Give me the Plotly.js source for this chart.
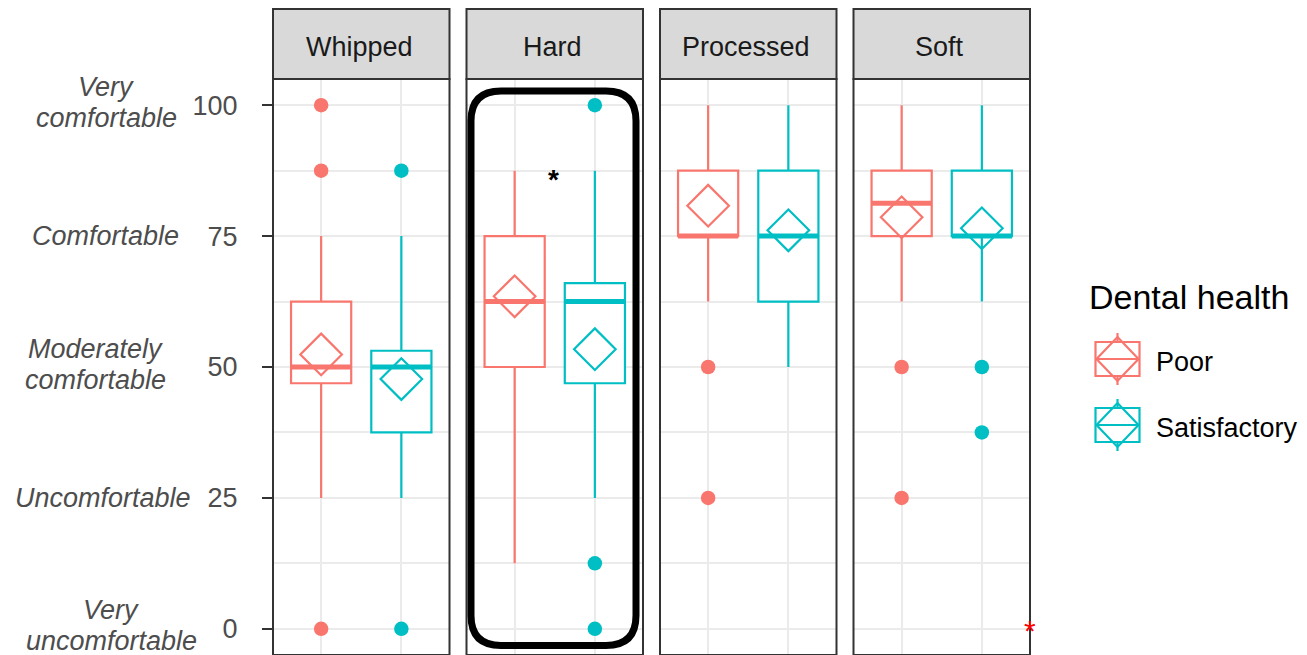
<!DOCTYPE html>
<html>
<head>
<meta charset="utf-8">
<script src="https://cdn.plot.ly/plotly-3.0.1.min.js"></script>
<style>
  html, body { margin: 0; padding: 0; background: #fff; }
  #chart { width: 1307px; height: 655px; }
</style>
</head>
<body>
<div id="chart"></div>
<script>
// ---------------------------------------------------------------------------
// data
// ---------------------------------------------------------------------------
const foods = ['Whipped', 'Hard', 'Processed', 'Soft'];
const groupNames = ['Poor', 'Satisfactory'];
const groupColors = ['#F8766D', '#00BFC4'];

const poorQ1 = [46.9, 50, 75, 75];
const poorMedian = [50, 62.5, 75, 81.25];
const poorQ3 = [62.5, 75, 87.5, 87.5];
const poorLower = [25, 12.5, 62.5, 62.5];
const poorUpper = [75, 87.5, 100, 100];
const poorMean = [52.4, 63.5, 80.8, 78.6];
const poorOutliers = [[100, 87.5, 0], [], [50, 25], [50, 25]];

const satQ1 = [37.5, 46.9, 62.5, 75];
const satMedian = [50, 62.5, 75, 75];
const satQ3 = [53.1, 66, 87.5, 87.5];
const satLower = [25, 25, 50, 62.5];
const satUpper = [75, 87.5, 100, 100];
const satMean = [47.7, 53.4, 76.1, 76.5];
const satOutliers = [[87.5, 0], [100, 12.5, 0], [], [50, 37.5]];

const yTicks = [0, 25, 50, 75, 100];
const comfortLabels = [
    ['Very', 'uncomfortable'],
    ['Uncomfortable'],
    ['Moderately', 'comfortable'],
    ['Comfortable'],
    ['Very', 'comfortable']
];

// ---------------------------------------------------------------------------
// geometry helpers (pixel -> paper)
// ---------------------------------------------------------------------------
const W = 1307, H = 655;
const M = { l: 273, r: 277, t: 9, b: 0 };
const PW = W - M.l - M.r;
const PH = H - M.t - M.b;
const pxX = x => (x - M.l) / PW;
const pxY = y => (H - M.b - y) / PH;

const FONT = 'Liberation Sans, Arial, sans-serif';
const BOX_W = 0.75;
const panelPx = [[273, 449.5], [466.5, 643], [660, 836.5], [853.5, 1030]];
const stripBottom = 79;

const groups = [
    { q1: poorQ1, med: poorMedian, q3: poorQ3, lo: poorLower, hi: poorUpper, mean: poorMean, out: poorOutliers },
    { q1: satQ1, med: satMedian, q3: satQ3, lo: satLower, hi: satUpper, mean: satMean, out: satOutliers }
];

// ---------------------------------------------------------------------------
// traces
// ---------------------------------------------------------------------------
const boxes = [], medians = [], outliers = [], means = [];

foods.forEach((food, i) => {
    const xa = i === 0 ? 'x' : 'x' + (i + 1);
    groups.forEach((g, j) => {
        const xpos = j + 1;
        const color = groupColors[j];
        boxes.push({
            type: 'box', x: [xpos],
            q1: [g.q1[i]], median: [g.med[i]], q3: [g.q3[i]],
            lowerfence: [g.lo[i]], upperfence: [g.hi[i]],
            width: BOX_W, whiskerwidth: 0, boxpoints: false,
            line: { color: color, width: 2.2 }, fillcolor: 'white',
            xaxis: xa, yaxis: 'y', showlegend: false, hoverinfo: 'skip'
        });
        medians.push({
            type: 'scatter', mode: 'lines',
            x: [xpos - BOX_W / 2, xpos + BOX_W / 2], y: [g.med[i], g.med[i]],
            line: { color: color, width: 5 },
            xaxis: xa, yaxis: 'y', showlegend: false, hoverinfo: 'skip'
        });
        if (g.out[i].length) {
            outliers.push({
                type: 'scatter', mode: 'markers',
                x: g.out[i].map(() => xpos), y: g.out[i],
                marker: { color: color, size: 14.5 },
                xaxis: xa, yaxis: 'y', showlegend: false, hoverinfo: 'skip', cliponaxis: false
            });
        }
        means.push({
            type: 'scatter', mode: 'markers',
            x: [xpos], y: [g.mean[i]],
            marker: { symbol: 'diamond-open', size: 32, color: color, line: { color: color, width: 2.2 } },
            xaxis: xa, yaxis: 'y', showlegend: false, hoverinfo: 'skip'
        });
    });
});

const data = [...boxes, ...medians, ...outliers, ...means];

// ---------------------------------------------------------------------------
// layout
// ---------------------------------------------------------------------------
const layout = {
    width: W, height: H,
    margin: M,
    paper_bgcolor: 'white', plot_bgcolor: 'white',
    font: { family: FONT, size: 27, color: '#4D4D4D' },
    showlegend: false,
    boxmode: 'overlay',
    yaxis: {
        domain: [0, pxY(stripBottom)],
        range: [-5, 105], anchor: 'x',
        tickmode: 'linear', tick0: 0, dtick: 25,
        ticks: 'outside', ticklen: 10, tickwidth: 2, tickcolor: '#333333',
        ticklabelstandoff: 19,
        tickfont: { family: FONT, size: 27, color: '#4D4D4D' },
        showgrid: true, gridcolor: '#EBEBEB', gridwidth: 2,
        minor: { dtick: 12.5, showgrid: true, gridcolor: '#EBEBEB', gridwidth: 2 },
        zeroline: false, showline: false, fixedrange: true
    },
    shapes: [],
    annotations: []
};

panelPx.forEach((p, i) => {
    const key = i === 0 ? 'xaxis' : 'xaxis' + (i + 1);
    const ref = i === 0 ? 'x' : 'x' + (i + 1);
    layout[key] = {
        domain: [pxX(p[0]), pxX(p[1])],
        range: [0.4, 2.6], anchor: 'y',
        tickvals: [1, 2], showticklabels: false, ticks: '',
        showgrid: true, gridcolor: '#EBEBEB', gridwidth: 2,
        zeroline: false, showline: false, fixedrange: true
    };
    // panel border
    layout.shapes.push({
        type: 'rect', xref: ref + ' domain', yref: 'y domain',
        x0: 0, x1: 1, y0: 0, y1: 1, layer: 'above',
        line: { color: '#333333', width: 2 }
    });
    // strip
    layout.shapes.push({
        type: 'rect', xref: ref + ' domain', yref: 'paper',
        x0: 0, x1: 1, y0: pxY(stripBottom), y1: 1, layer: 'above',
        fillcolor: '#D9D9D9', line: { color: '#333333', width: 2 }
    });
    layout.annotations.push({
        xref: ref + ' domain', yref: 'paper', x: 0.49, y: pxY(47),
        text: foods[i], showarrow: false, xanchor: 'center', yanchor: 'middle',
        font: { family: FONT, size: 27, color: '#1A1A1A' }
    });
});

// comfort labels to the left of the tick numbers
const labelCentersX = [111, 103, 95, 105.5, 106];
const lineGap = 31;
yTicks.forEach((v, k) => {
    const lines = comfortLabels[k];
    lines.forEach((t, n) => {
        const off = (n - (lines.length - 1) / 2) * lineGap;
        layout.annotations.push({
            xref: 'paper', yref: 'y', x: pxX(labelCentersX[k]), y: v,
            yshift: -off + (lines.length > 1 ? 3 : 0),
            text: '<i>' + t + '</i>', showarrow: false,
            xanchor: 'center', yanchor: 'middle',
            font: { family: FONT, size: 27, color: '#4D4D4D' }
        });
    });
});

// highlight around the Hard panel
(function () {
    const x0 = pxX(471), x1 = pxX(636), yT = pxY(91), yB = pxY(645.5);
    const rx = 30 / PW, ry = 30 / PH;
    const path = `M${x0 + rx},${yT} L${x1 - rx},${yT} Q${x1},${yT} ${x1},${yT - ry} ` +
        `L${x1},${yB + ry} Q${x1},${yB} ${x1 - rx},${yB} L${x0 + rx},${yB} ` +
        `Q${x0},${yB} ${x0},${yB + ry} L${x0},${yT - ry} Q${x0},${yT} ${x0 + rx},${yT} Z`;
    layout.shapes.push({
        type: 'path', xref: 'paper', yref: 'paper', path: path, layer: 'above',
        line: { color: 'black', width: 7 }
    });
})();

// significance marks
layout.annotations.push({
    xref: 'x2', yref: 'y', x: 1.48, y: 85.8, text: '<b>*</b>', showarrow: false,
    font: { family: FONT, size: 28, color: 'black' }
});
layout.annotations.push({
    xref: 'x4', yref: 'y', x: 2.6, y: -0.4, text: '*', showarrow: false,
    font: { family: FONT, size: 30, color: '#FF0000' }
});

// legend (drawn by hand: box + diamond key)
layout.annotations.push({
    xref: 'paper', yref: 'paper', x: pxX(1087), y: pxY(297),
    text: 'Dental health', showarrow: false, xanchor: 'left', yanchor: 'middle',
    font: { family: FONT, size: 34, color: 'black' }
});
groupNames.forEach((name, j) => {
    const cy = 359 + j * 66;
    const cx = 1117.5;
    const color = groupColors[j];
    const ln = { color: color, width: 2.2 };
    layout.shapes.push({
        type: 'rect', xref: 'paper', yref: 'paper',
        x0: pxX(1095.5), x1: pxX(1139.5), y0: pxY(cy + 17), y1: pxY(cy - 17), line: ln
    });
    layout.shapes.push({
        type: 'line', xref: 'paper', yref: 'paper',
        x0: pxX(1095.5), x1: pxX(1139.5), y0: pxY(cy), y1: pxY(cy), line: ln
    });
    layout.shapes.push({
        type: 'line', xref: 'paper', yref: 'paper',
        x0: pxX(cx), x1: pxX(cx), y0: pxY(cy - 26), y1: pxY(cy - 17), line: ln
    });
    layout.shapes.push({
        type: 'line', xref: 'paper', yref: 'paper',
        x0: pxX(cx), x1: pxX(cx), y0: pxY(cy + 17), y1: pxY(cy + 26), line: ln
    });
    layout.shapes.push({
        type: 'path', xref: 'paper', yref: 'paper', line: ln,
        path: `M${pxX(cx)},${pxY(cy - 22)} L${pxX(cx + 21)},${pxY(cy)} ` +
            `L${pxX(cx)},${pxY(cy + 22)} L${pxX(cx - 21)},${pxY(cy)} Z`
    });
    layout.annotations.push({
        xref: 'paper', yref: 'paper', x: pxX(1154), y: pxY(cy + 3),
        text: name, showarrow: false, xanchor: 'left', yanchor: 'middle',
        font: { family: FONT, size: 27, color: 'black' }
    });
});

Plotly.newPlot('chart', data, layout, { staticPlot: true, displayModeBar: false });
</script>
</body>
</html>
